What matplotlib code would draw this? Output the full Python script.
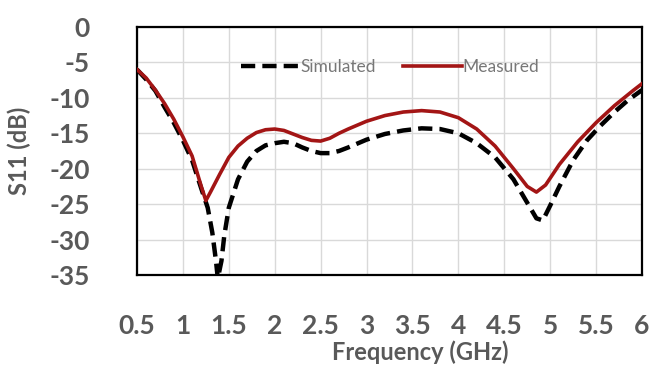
import matplotlib
matplotlib.use("Agg")
import matplotlib.pyplot as plt

# Measured S11
meas_f = [0.5, 0.6, 0.7, 0.8, 0.9, 1.0, 1.1, 1.2, 1.25, 1.3, 1.4, 1.5, 1.6, 1.7, 1.8,
          1.9, 2.0, 2.1, 2.2, 2.3, 2.4, 2.5, 2.6, 2.7, 2.8, 3.0, 3.2, 3.4, 3.6, 3.8,
          4.0, 4.2, 4.4, 4.6, 4.75, 4.85, 4.95, 5.1, 5.3, 5.5, 5.7, 5.9, 6.0]
meas_s = [-6.0, -7.2, -8.9, -10.8, -13.0, -15.5, -18.2, -22.5, -24.5, -23.3, -20.8,
          -18.4, -16.8, -15.7, -14.9, -14.5, -14.4, -14.6, -15.1, -15.6, -16.0, -16.1,
          -15.7, -15.0, -14.4, -13.3, -12.5, -12.0, -11.8, -12.0, -12.8, -14.4, -16.8,
          -20.0, -22.5, -23.3, -22.3, -19.4, -16.2, -13.5, -11.1, -9.0, -8.0]

# Simulated S11
sim_f = [0.5, 0.6, 0.7, 0.8, 0.9, 1.0, 1.1, 1.2, 1.27, 1.32, 1.36, 1.38, 1.42, 1.45,
         1.5, 1.6, 1.7, 1.8, 1.9, 2.0, 2.1, 2.2, 2.3, 2.4, 2.5, 2.6, 2.7, 2.8, 3.0,
         3.2, 3.4, 3.6, 3.8, 4.0, 4.2, 4.4, 4.6, 4.75, 4.85, 4.92, 5.0, 5.1, 5.25,
         5.4, 5.55, 5.7, 5.85, 6.0]
sim_s = [-6.0, -7.4, -9.0, -11.3, -13.5, -16.0, -18.8, -22.8, -25.5, -29.0, -33.0,
         -35.5, -33.0, -29.5, -25.5, -21.5, -19.0, -17.5, -16.7, -16.4, -16.2, -16.4,
         -17.0, -17.5, -17.8, -17.8, -17.5, -17.0, -15.9, -15.1, -14.6, -14.3, -14.4,
         -15.0, -16.4, -18.4, -21.5, -24.8, -27.0, -27.3, -25.2, -22.5, -18.8, -16.0,
         -13.9, -12.0, -10.3, -8.9]

xticks = [0.5, 1, 1.5, 2, 2.5, 3, 3.5, 4, 4.5, 5, 5.5, 6]
xticklabels = ["0.5", "1", "1.5", "2", "2.5", "3", "3.5", "4", "4.5", "5", "5.5", "6"]
yticks = [0, -5, -10, -15, -20, -25, -30, -35]
yticklabels = ["0", "-5", "-10", "-15", "-20", "-25", "-30", "-35"]

plt.rcParams['font.family'] = ['Lato', 'DejaVu Sans']
grey = "#595959"

fig = plt.figure(figsize=(6.49, 3.72), dpi=100)
ax = fig.add_axes([137/649, 1-275/372, (642-137)/649, (275-27)/372])

ax.plot(sim_f, sim_s, color="black", lw=3.2, dashes=(3.2, 1.6), label="Simulated", zorder=3)
ax.plot(meas_f, meas_s, color="#a31515", lw=2.6, label="Measured", zorder=4)

ax.set_xlim(0.5, 6)
ax.set_ylim(-35, 0)
ax.set_xticks(xticks)
ax.set_xticklabels(xticklabels)
ax.set_yticks(yticks)
ax.set_yticklabels(yticklabels)
ax.grid(True, color="#d9d9d9", lw=1.0)
ax.set_axisbelow(True)
ax.tick_params(axis="both", length=0, colors=grey, labelsize=19)
ax.tick_params(axis="x", pad=28)
ax.tick_params(axis="y", pad=34)
for lab in ax.get_xticklabels() + ax.get_yticklabels():
    lab.set_fontweight("bold")
for sp in ax.spines.values():
    sp.set_color("black")
    sp.set_linewidth(1.6)

ax.set_xlabel("Frequency (GHz)", fontsize=17, fontweight="bold", color=grey)
ax.xaxis.set_label_coords(0.56, -0.265)
ax.set_ylabel("S11 (dB)", fontsize=17, fontweight="bold", color=grey)
ax.yaxis.set_label_coords(-0.21, 0.5)

leg = ax.legend(loc="center", bbox_to_anchor=(390/649, 1-67/372), bbox_transform=fig.transFigure,
                ncol=2, frameon=False, fontsize=12.5, handlelength=3.4, handletextpad=0.0,
                columnspacing=1.6, labelcolor="#777777")

fig.savefig("out.png", dpi=100)
